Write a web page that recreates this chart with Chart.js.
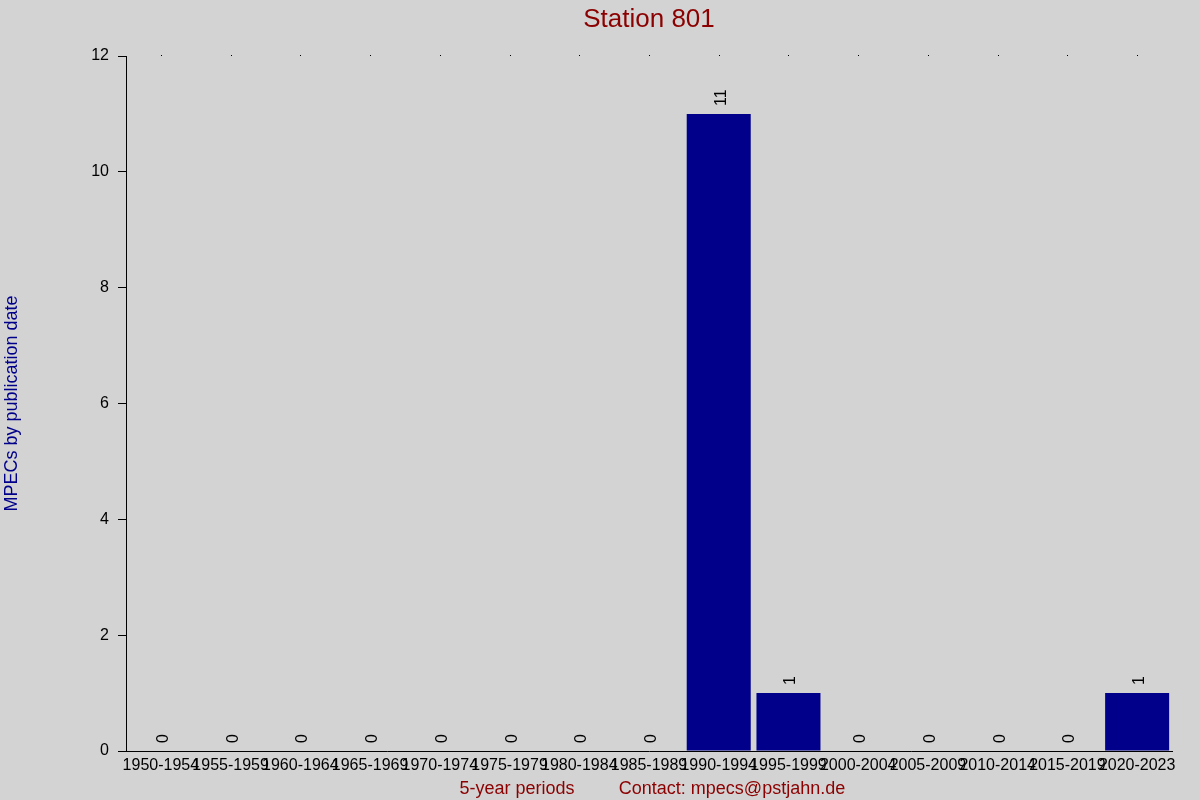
<!DOCTYPE html>
<html>
<head>
<meta charset="utf-8">
<script src="https://cdn.jsdelivr.net/npm/chart.js@4.4.0/dist/chart.umd.min.js"></script>
<style>
  html, body { margin: 0; padding: 0; background: #d3d3d3; }
  #wrap { width: 1200px; height: 800px; position: relative; }
</style>
</head>
<body>
<div id="wrap"><canvas id="c" width="1200" height="800"></canvas></div>
<script>
const categories = ["1950-1954","1955-1959","1960-1964","1965-1969","1970-1974","1975-1979","1980-1984","1985-1989","1990-1994","1995-1999","2000-2004","2005-2009","2010-2014","2015-2019","2020-2023"];
const mpecCounts = [0,0,0,0,0,0,0,0,11,1,0,0,0,0,1];
const yTicks = [0,2,4,6,8,10,12];

const chartTitle = "Station 801";
const yTitle = "MPECs by publication date";
const xTitle = "5-year periods";
const contactText = "Contact: mpecs@pstjahn.de";

const FONT = "'Liberation Sans', Arial, sans-serif";

const bgPlugin = {
  id: 'bg',
  beforeDraw(chart) {
    const ctx = chart.ctx;
    ctx.save();
    ctx.fillStyle = '#d3d3d3';
    ctx.fillRect(0, 0, chart.width, chart.height);
    ctx.restore();
  }
};

const decoPlugin = {
  id: 'deco',
  afterDatasetsDraw(chart) {
    const ctx = chart.ctx;
    const meta = chart.getDatasetMeta(0);
    ctx.save();
    ctx.fillStyle = '#000';
    ctx.font = '16px ' + FONT;
    ctx.textAlign = 'left';
    ctx.textBaseline = 'alphabetic';
    meta.data.forEach((el, i) => {
      ctx.save();
      ctx.translate(el.x, el.y - 8);
      ctx.rotate(-Math.PI / 2);
      ctx.fillText(String(mpecCounts[i]), 0, 7);
      ctx.restore();
    });
    ctx.restore();
  },
  afterDraw(chart) {
    const ctx = chart.ctx;
    const area = chart.chartArea;
    const xs = chart.scales.x;
    ctx.save();
    ctx.fillStyle = '#000';
    categories.forEach((c, i) => {
      const px = Math.round(xs.getPixelForValue(i));
      ctx.fillRect(px, Math.round(area.top) - 1, 1, 1);
    });
    ctx.fillStyle = '#8b0000';
    ctx.font = '26px ' + FONT;
    ctx.textAlign = 'center';
    ctx.textBaseline = 'alphabetic';
    ctx.fillText(chartTitle, (area.left + area.right) / 2, 27);
    ctx.font = '18px ' + FONT;
    ctx.fillText(xTitle, 517, 794);
    ctx.fillText(contactText, 732, 794);
    ctx.fillStyle = '#00008b';
    ctx.font = '18px ' + FONT;
    ctx.translate(17, (area.top + area.bottom) / 2);
    ctx.rotate(-Math.PI / 2);
    ctx.textAlign = 'center';
    ctx.textBaseline = 'alphabetic';
    ctx.fillText(yTitle, 0, 0);
    ctx.restore();
  }
};

new Chart(document.getElementById('c'), {
  type: 'bar',
  data: {
    labels: categories,
    datasets: [{
      data: mpecCounts,
      backgroundColor: '#00008b',
      borderWidth: 0,
      barPercentage: 0.918,
      categoryPercentage: 1.0
    }]
  },
  options: {
    responsive: false,
    animation: false,
    devicePixelRatio: 1,
    layout: { padding: { top: 56, right: 28, left: 0, bottom: 0 } },
    plugins: {
      legend: { display: false },
      title: { display: false },
      tooltip: { enabled: false }
    },
    scales: {
      x: {
        offset: true,
        grid: { display: false, drawTicks: false },
        border: { display: true, color: '#000', width: 1 },
        ticks: {
          autoSkip: false,
          maxRotation: 0,
          minRotation: 0,
          padding: 5,
          color: '#000',
          font: { family: FONT, size: 16 }
        },
        afterFit(scale) { scale.height = 49; }
      },
      y: {
        min: 0,
        max: 12,
        afterBuildTicks(scale) { scale.ticks = yTicks.map(v => ({ value: v })); },
        grid: {
          display: true,
          drawOnChartArea: false,
          drawTicks: true,
          tickLength: 8,
          color: '#000',
          tickColor: '#000'
        },
        border: { display: true, color: '#000', width: 1 },
        ticks: {
          padding: 9,
          color: '#000',
          font: { family: FONT, size: 16 }
        },
        afterFit(scale) { scale.width = 126; }
      }
    }
  },
  plugins: [bgPlugin, decoPlugin]
});
</script>
</body>
</html>
